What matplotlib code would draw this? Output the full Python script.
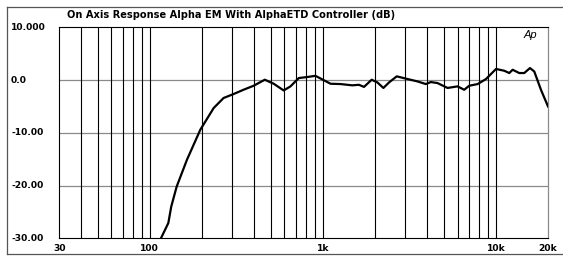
import matplotlib
matplotlib.use("Agg")
import matplotlib.pyplot as plt
import matplotlib.transforms as mtransforms
from matplotlib.lines import Line2D
import numpy as np

title = "On Axis Response Alpha EM With AlphaETD Controller (dB)"
freq = [113, 116, 128, 133, 143, 164, 196, 234, 267, 305, 348, 398, 462, 520, 594,
        650, 726, 811, 906, 969, 1108, 1266, 1480, 1617, 1729, 1915, 2066, 2238,
        2413, 2673, 3081, 3522, 3935, 4204, 4599, 5255, 6004, 6558, 7010, 7842,
        8765, 10015, 11190, 11943, 12496, 13640, 14578, 15732, 16658, 18210, 20000]
db = [-31.0, -30.0, -27.1, -24.0, -20.2, -15.1, -9.4, -5.3, -3.4, -2.65, -1.84, -1.08,
      0.06, -0.7, -1.97, -1.2, 0.38, 0.57, 0.8, 0.3, -0.7, -0.76, -1.0, -0.9, -1.3,
      0.06, -0.45, -1.5, -0.45, 0.7, 0.2, -0.26, -0.76, -0.38, -0.57, -1.5, -1.2,
      -1.84, -1.08, -0.76, 0.19, 2.1, 1.76, 1.33, 1.95, 1.33, 1.33, 2.27, 1.63,
      -1.84, -5.0]
y_ticks = [10, 0, -10, -20, -30]
y_labels = ["10.000", "0.0", "-10.00", "-20.00", "-30.00"]
x_ticks = [30, 100, 1000, 10000, 20000]
x_labels = ["30", "100", "1k", "10k", "20k"]
x_grid = [40, 50, 60, 70, 80, 90, 100, 200, 300, 400, 500, 600, 700, 800, 900,
          1000, 2000, 3000, 4000, 5000, 6000, 7000, 8000, 9000, 10000]

plt.rcParams['font.family'] = ['Liberation Sans', 'DejaVu Sans']
W, H = 563, 258
fig = plt.figure(figsize=(W / 100, H / 100), dpi=100)
fig.patch.set_facecolor('white')

x0, x1, ytop, ybot = 59.3, 548.0, 27.3, 238.3
ax = fig.add_axes([x0 / W, (H - ybot) / H, (x1 - x0) / W, (ybot - ytop) / H])
ax.set_xscale('log')
ax.set_xlim(30, 20000)
ax.set_ylim(-30, 10)
ax.set_xticks([])
ax.set_yticks([])
ax.minorticks_off()
ax.tick_params(which='both', length=0, labelbottom=False, labelleft=False)

for v in y_ticks[1:-1]:
    ax.axhline(v, color='#8a8a8a', lw=0.9, zorder=1)
for f in x_grid:
    ax.axvline(f, color='black', lw=0.8, zorder=1)

for s in ['left', 'bottom', 'top']:
    ax.spines[s].set_color('black')
    ax.spines[s].set_linewidth(0.8)
ax.spines['right'].set_color('#8a8a8a')
ax.spines['right'].set_linewidth(0.9)

ax.plot(freq, db, color='black', lw=1.6, zorder=3, solid_joinstyle='round')

lab_font = dict(family=['DejaVu Sans'], fontsize=6.6, fontweight='bold')
# y labels
trans_y = mtransforms.blended_transform_factory(fig.transFigure, ax.transData)
for v, lab in zip(y_ticks, y_labels):
    ax.text(11 / W, v, lab, transform=trans_y, ha='left', va='center',
            clip_on=False, **lab_font)
# x labels
trans_x = mtransforms.blended_transform_factory(ax.transData, fig.transFigure)
for v, lab in zip(x_ticks, x_labels):
    ax.text(v, (H - 248.5) / H, lab, transform=trans_x, ha='center', va='center',
            clip_on=False, **lab_font)

fig.text(67 / W, (H - 15) / H, title, ha='left', va='center', fontsize=7.1,
         fontweight='bold', family=['DejaVu Sans'])
ax.text(530 / W, (H - 35) / H, "Ap", transform=fig.transFigure, ha='center',
        va='center', fontsize=8, style='italic')

# outer frame
fc = '#555555'
fig.add_artist(Line2D([7 / W, 1.01], [(H - 7) / H, (H - 7) / H], color=fc, lw=0.9))
fig.add_artist(Line2D([7 / W, 1.01], [(H - 254) / H, (H - 254) / H], color=fc, lw=0.9))
fig.add_artist(Line2D([7 / W, 7 / W], [(H - 7) / H, (H - 254) / H], color=fc, lw=0.9))

fig.savefig('out.png', dpi=100)
